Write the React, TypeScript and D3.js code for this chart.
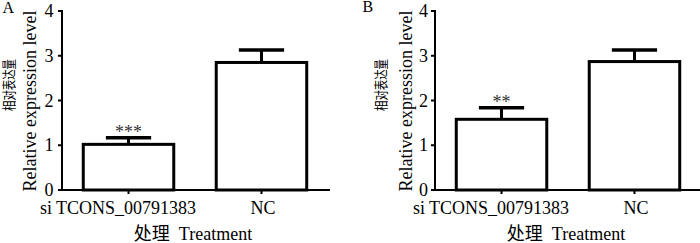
import React from "react";
import * as d3 from "d3";

const categories = ["si TCONS_00791383", "NC"];
const panelLetters = ["A", "B"];
const meansA = [1.02, 2.85];
const errorsA = [0.15, 0.28];
const signifA = ["***", ""];
const meansB = [1.58, 2.87];
const errorsB = [0.26, 0.26];
const signifB = ["**", ""];
const yTicks = [0, 1, 2, 3, 4];
const yLabelEn = "Relative expression level";
const yLabelZh = "相对表达量";
const xTitle = "处理  Treatment";

const W = 700;
const H = 243;
const FONT = "Liberation Serif, Noto Sans CJK SC, serif";

type PanelCfg = {
  letter: string;
  means: number[];
  errors: number[];
  signif: string[];
  axisX: number;
  letterX: number;
  letterY: number;
  enLabelX: number;
  zhLabelX: number;
  tickGap: number;
};

const panels: PanelCfg[] = [
  { letter: panelLetters[0], means: meansA, errors: errorsA, signif: signifA, axisX: 62, letterX: 2.5, letterY: 12.7, enLabelX: 29.5, zhLabelX: 9.2, tickGap: 8.5 },
  { letter: panelLetters[1], means: meansB, errors: errorsB, signif: signifB, axisX: 435, letterX: 362.5, letterY: 12, enLabelX: 406.2, zhLabelX: 381.7, tickGap: 7 },
];

const AXIS_LEN = 268;
const yScale = d3.scaleLinear().domain([0, 4]).range([190, 11]);
const labelOffsets = [-10.5, 1.5];

function Panel({ p }: { p: PanelCfg }) {
  const x = d3
    .scaleBand<string>()
    .domain(categories)
    .range([p.axisX, p.axisX + 266])
    .paddingInner(0.3195)
    .paddingOuter(0.16);
  const bw = x.bandwidth();
  const y0 = yScale(0);
  const capHalf = bw / 4;
  return (
    <g>
      <text x={p.letterX} y={p.letterY} fontSize={16} style={{ fontFamily: FONT }} fill="#000">
        {p.letter}
      </text>
      {categories.map((c, i) => {
        const cx = (x(c) as number) + bw / 2;
        const top = yScale(p.means[i]);
        const capY = yScale(p.means[i] + p.errors[i]);
        return (
          <g key={c}>
            <line x1={cx} x2={cx} y1={top} y2={capY} stroke="#000" strokeWidth={3} />
            <line x1={cx - capHalf} x2={cx + capHalf} y1={capY} y2={capY} stroke="#000" strokeWidth={3.5} />
            <rect x={x(c) as number} y={top} width={bw} height={y0 - top} fill="#fff" stroke="#000" strokeWidth={3} />
            {p.signif[i] ? (
              <text x={cx} y={capY + 0.5} textAnchor="middle" fontSize={18} style={{ fontFamily: FONT }} fill="#333">
                {p.signif[i]}
              </text>
            ) : null}
          </g>
        );
      })}
      <line x1={p.axisX} x2={p.axisX} y1={yScale(4) - 1} y2={y0} stroke="#000" strokeWidth={2} />
      {yTicks.map((t) => (
        <g key={t}>
          <line x1={p.axisX - 4} x2={p.axisX} y1={yScale(t)} y2={yScale(t)} stroke="#000" strokeWidth={2} />
          <text x={p.axisX - p.tickGap} y={yScale(t)} textAnchor="end" dominantBaseline="central" fontSize={18} style={{ fontFamily: FONT }} fill="#000">
            {t}
          </text>
        </g>
      ))}
      <line x1={p.axisX - 1} x2={p.axisX + AXIS_LEN} y1={y0} y2={y0} stroke="#000" strokeWidth={2.2} />
      {categories.map((c, i) => {
        const cx = (x(c) as number) + bw / 2;
        return (
          <g key={"t" + c}>
            <line x1={cx} x2={cx} y1={y0} y2={y0 + 4} stroke="#000" strokeWidth={2} />
            <text x={cx + labelOffsets[i]} y={214} textAnchor="middle" fontSize={18} style={{ fontFamily: FONT }} fill="#000">
              {c}
            </text>
          </g>
        );
      })}
      <text x={p.axisX + AXIS_LEN / 2 - 3} y={239.5} textAnchor="middle" fontSize={18} style={{ fontFamily: FONT, whiteSpace: "pre" }} fill="#000">
        {xTitle}
      </text>
      <text transform={`translate(${p.enLabelX},101) rotate(-90)`} textAnchor="middle" dominantBaseline="central" fontSize={18} style={{ fontFamily: FONT }} fill="#000">
        {yLabelEn}
      </text>
      <text transform={`translate(${p.zhLabelX},85) rotate(-90)`} textAnchor="middle" dominantBaseline="central" fontSize={14} textLength={52} lengthAdjust="spacingAndGlyphs" style={{ fontFamily: FONT }} fill="#000">
        {yLabelZh}
      </text>
    </g>
  );
}

export default function App() {
  return (
    <svg width={W} height={H} viewBox={`0 0 ${W} ${H}`} style={{ position: "absolute", left: 0, top: 0, background: "#fff" }}>
      <rect x={0} y={0} width={W} height={H} fill="#fff" />
      {panels.map((p) => (
        <Panel key={p.letter} p={p} />
      ))}
    </svg>
  );
}
